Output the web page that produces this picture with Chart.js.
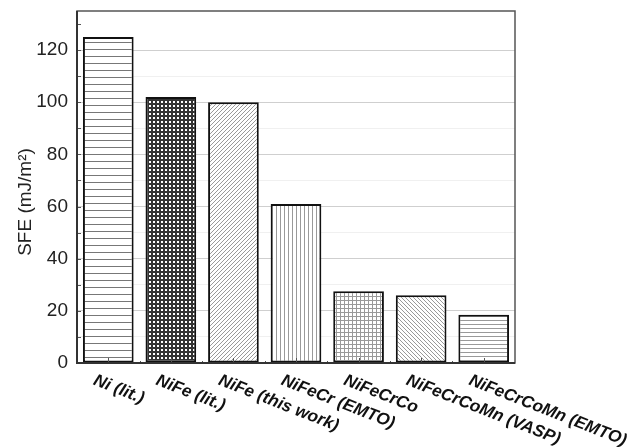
<!DOCTYPE html>
<html>
<head>
<meta charset="utf-8">
<script src="https://cdn.jsdelivr.net/npm/chart.js@4"></script>
<style>
  html, body { margin: 0; padding: 0; background: #fff; }
  #wrap { width: 641px; height: 447px; }
</style>
</head>
<body>
<div id="wrap"><canvas id="sfeChart" width="641" height="447"></canvas></div>
<script>
// data
const categories = ['Ni (lit.)', 'NiFe (lit.)', 'NiFe (this work)', 'NiFeCr (EMTO)',
                    'NiFeCrCo', 'NiFeCrCoMn (VASP)', 'NiFeCrCoMn (EMTO)'];
const sfeValues = [125, 102, 100, 61, 27.5, 26, 18.5];
const yTicks = [0, 20, 40, 60, 80, 100, 120];
const yTitle = 'SFE (mJ/m\u00B2)';

// hatch fills
function makePattern(size, draw) {
    const c = document.createElement('canvas');
    c.width = size; c.height = size;
    const g = c.getContext('2d');
    g.fillStyle = '#fff';
    g.fillRect(0, 0, size, size);
    draw(g, size);
    return g.createPattern(c, 'repeat');
}
function hLines(size, color) {
    return makePattern(size, (g, s) => { g.fillStyle = color; g.fillRect(0, 0, s, 1); });
}
function vLines(size, color) {
    return makePattern(size, (g, s) => { g.fillStyle = color; g.fillRect(0, 0, 1, s); });
}
function diag(size, color, up) {
    return makePattern(size, (g, s) => {
        g.strokeStyle = color; g.lineWidth = 1;
        g.beginPath();
        for (let k = -1; k <= 1; k++) {
            if (up) { g.moveTo(k * s, s); g.lineTo(k * s + s, 0); }
            else { g.moveTo(k * s, 0); g.lineTo(k * s + s, s); }
        }
        g.stroke();
    });
}
const patterns = [
    hLines(7, '#777'),
    makePattern(4, (g) => { g.fillStyle = '#333'; g.fillRect(0, 0, 4, 4); g.fillStyle = '#fff'; g.fillRect(1, 1, 2, 2); }),
    diag(4, '#999', true),
    vLines(4, '#999'),
    makePattern(4, (g) => { g.fillStyle = '#999'; g.fillRect(0, 0, 4, 1); g.fillRect(0, 0, 1, 4); }),
    diag(4, '#999', false),
    hLines(4, '#999')
];

const framePlugin = {
    id: 'frame',
    afterDraw(chart) {
        const ctx = chart.ctx;
        const a = chart.chartArea;
        const y = chart.scales.y, x = chart.scales.x;
        ctx.save();
        // inward ticks
        ctx.strokeStyle = '#555';
        ctx.lineWidth = 1;
        ctx.beginPath();
        for (let v = 10; v < 135; v += 10) {
            const py = Math.round(y.getPixelForValue(v)) + 0.5;
            ctx.moveTo(a.left, py); ctx.lineTo(a.left + 4, py);
        }
        for (let i = 0; i < categories.length; i++) {
            const px = Math.round(x.getPixelForValue(i)) + 0.5;
            ctx.moveTo(px, a.bottom); ctx.lineTo(px, a.bottom - 5);
            if (i > 0) {
                const bx = Math.round((x.getPixelForValue(i) + x.getPixelForValue(i - 1)) / 2) + 0.5;
                ctx.moveTo(bx, a.bottom); ctx.lineTo(bx, a.bottom - 2);
            }
        }
        ctx.stroke();
        // frame
        ctx.strokeStyle = '#555';
        ctx.lineWidth = 1.5;
        ctx.strokeRect(a.left, a.top, a.right - a.left, a.bottom - a.top);
        ctx.strokeStyle = '#333';
        ctx.lineWidth = 2;
        ctx.beginPath();
        ctx.moveTo(a.left, a.top); ctx.lineTo(a.left, a.bottom); ctx.lineTo(a.right, a.bottom);
        ctx.stroke();
        // rotated category labels
        ctx.fillStyle = '#111';
        ctx.font = 'italic bold 17px "Liberation Sans", Arial, sans-serif';
        ctx.textAlign = 'left';
        ctx.textBaseline = 'top';
        categories.forEach((lab, i) => {
            ctx.save();
            ctx.translate(x.getPixelForValue(i) - 11, a.bottom + 9);
            ctx.rotate(21.5 * Math.PI / 180);
            ctx.fillText(lab, 0, 0);
            ctx.restore();
        });
        // y title
        ctx.save();
        ctx.translate(26, 202);
        ctx.rotate(-Math.PI / 2);
        ctx.textAlign = 'center';
        ctx.textBaseline = 'middle';
        ctx.fillStyle = '#222';
        ctx.font = '19px "Liberation Sans", Arial, sans-serif';
        ctx.fillText(yTitle, 0, 0);
        ctx.restore();
        ctx.restore();
    }
};

new Chart(document.getElementById('sfeChart').getContext('2d'), {
    type: 'bar',
    data: {
        labels: categories,
        datasets: [{
            data: sfeValues,
            backgroundColor: patterns,
            borderColor: '#111',
            borderWidth: 2,
            borderSkipped: false,
            barPercentage: 0.81,
            categoryPercentage: 1
        }]
    },
    options: {
        responsive: false,
        animation: false,
        layout: { padding: { top: 11, right: 126, left: 0, bottom: 0 } },
        plugins: { legend: { display: false }, tooltip: { enabled: false } },
        scales: {
            x: {
                grid: { display: false },
                border: { display: false },
                ticks: { display: false },
                afterFit(s) { s.height = 84; }
            },
            y: {
                min: 0,
                max: 135,
                border: { display: false },
                grid: {
                    drawTicks: false,
                    color: (c) => {
                        const v = c.tick.value;
                        if (yTicks.includes(v)) return v === 0 ? 'transparent' : '#cfcfcf';
                        return v % 10 === 0 ? '#f0f0f0' : 'transparent';
                    }
                },
                ticks: {
                    stepSize: 10,
                    padding: 9,
                    color: '#222',
                    font: { family: '"Liberation Sans", Arial, sans-serif', size: 19 },
                    callback: (v) => yTicks.includes(v) ? String(v) : ''
                },
                afterFit(s) { s.width = 77; s.paddingTop = 0; s.paddingBottom = 0; }
            }
        }
    },
    plugins: [framePlugin]
});
</script>
</body>
</html>
